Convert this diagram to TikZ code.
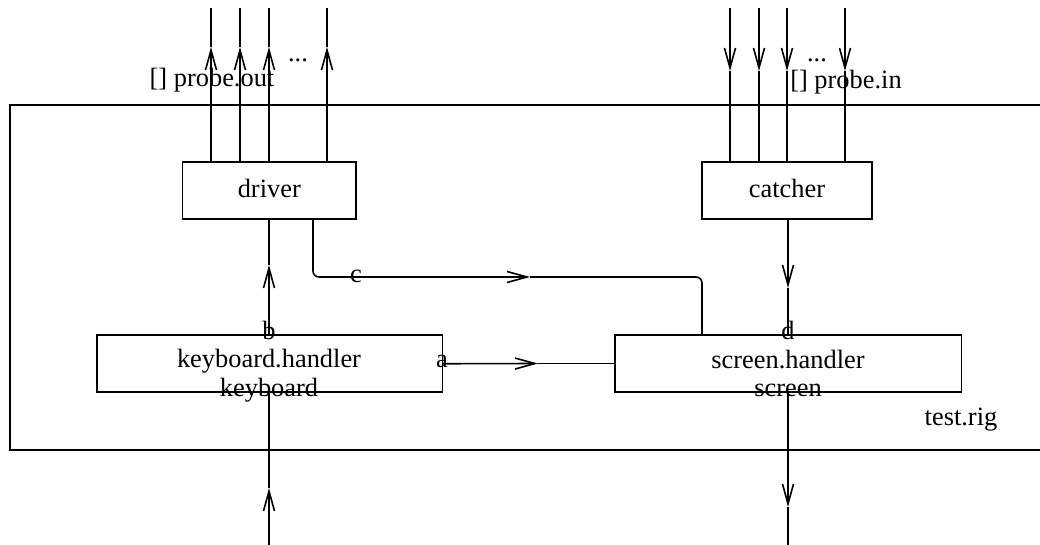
\documentclass[tikz,border=0pt]{standalone}
\usepackage{fontspec}
\setmainfont{Liberation Serif}
\usetikzlibrary{arrows.meta}
\tikzset{every picture/.style={line width=0.8pt}}
\tikzset{
  blockbox/.style={draw, rectangle, inner sep=0pt, outer sep=0pt, minimum height=28.5pt, minimum width=#1},
  barb/.style={-{Straight Barb[length=10pt,width=5.5pt]}},
  txt/.style={inner sep=0pt, anchor=base},
}

\begin{document}
\begin{tikzpicture}[x=0.5pt,y=0.5pt,yscale=-1,xscale=1,font=\fontsize{13.2pt}{15pt}\selectfont]
\useasboundingbox (0,0) rectangle (1040,545);

%Shape: outer rig (right side runs off the page)
\node [draw, rectangle, inner sep=0pt, minimum width=520pt, minimum height=172.6pt] (rig) at (530,277.5) {};

%Shape: blocks
\node [blockbox=86.7pt] (driver) at (269.3,190.5) {};
\node [blockbox=85pt] (catcher) at (787,190.5) {};
\node [blockbox=172.8pt] (kbd) at (269.5,363.75) {};
\node [blockbox=173.3pt] (scr) at (788,363.5) {};

%Straight Lines: probe.out, up
\foreach \px in {211,240,269,327} {
  \draw [barb] (driver.north -| \px,0) -- (\px,47);
  \draw (\px,47) -- (\px,8);
}
%Straight Lines: probe.in, down
\foreach \px in {730,759,787,845} {
  \draw [barb] (\px,8) -- (\px,71);
  \draw (\px,71) -- (catcher.north -| \px,0);
}

%Straight Lines: b
\draw [barb] (kbd.north -| 269,0) -- (269,265);
\draw (269,265) -- (driver.south -| 269,0);
%Straight Lines: d
\draw [barb] (catcher.south -| 788,0) -- (788,288);
\draw (788,288) -- (scr.north -| 788,0);
%Curve Lines: c
\draw [barb, rounded corners=3pt] (driver.south -| 313,0) |- (530,277);
\draw [rounded corners=3pt] (530,277) -| (scr.north -| 702,0);
%Straight Lines: a
\draw [barb] (kbd.east) -- (538,363.5);
\draw (538,363.5) -- (scr.west);
%Straight Lines: keyboard, screen
\draw [barb] (269,545) -- (269,488);
\draw (269,488) -- (kbd.south -| 269,0);
\draw [barb] (scr.south -| 788,0) -- (788,507);
\draw (788,507) -- (788,545);

% Text Node
\node [txt] (outlbl) at (212,87) {[] probe.out};
\node [txt] (outdots) at (298,62) {...};
\node [txt] (inlbl) at (846,89) {[] probe.in};
\node [txt] (indots) at (817,62) {...};
\node [txt] (drivername) at (269.3,198) {driver};
\node [txt] (catchername) at (787,198) {catcher};
\node [txt] (kbdname) at (269,368) {keyboard.handler};
\node [txt] (kbdinst) at (269,397) {keyboard};
\node [txt] (scrname) at (788,369) {screen.handler};
\node [txt] (scrinst) at (788,397) {screen};
\node [txt] (blbl) at (269,340) {b};
\node [txt] (dlbl) at (788,340) {d};
\node [txt] (albl) at (442,368) {a};
\node [txt] (clbl) at (356,283) {c};
\node [txt] (riglbl) at (961,426) {test.rig};

\end{tikzpicture}
\end{document}
